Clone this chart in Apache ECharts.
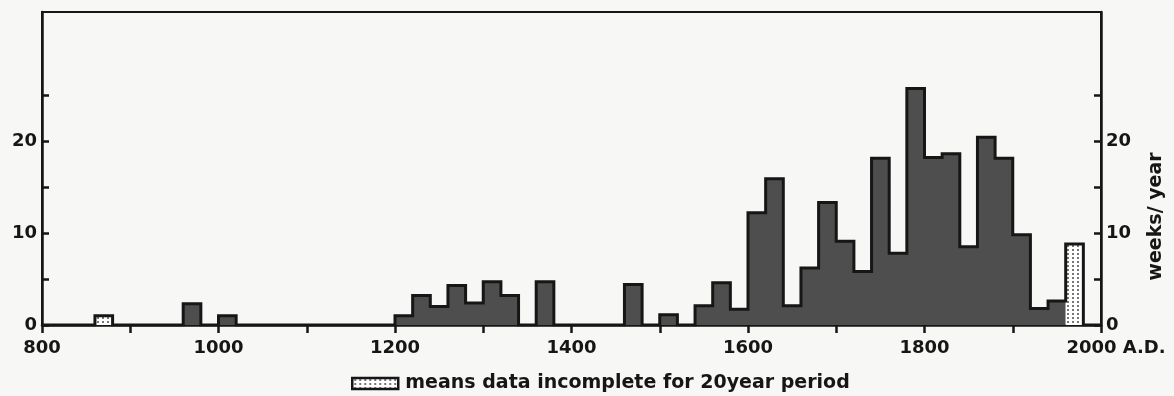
<!DOCTYPE html>
<html>
<head>
<meta charset="utf-8">
<script src="https://cdn.jsdelivr.net/npm/echarts@6/dist/echarts.min.js"></script>
<style>
  html, body { margin: 0; padding: 0; background: #f7f7f5; }
  #chart { width: 1174px; height: 396px; }
</style>
</head>
<body>
<div id="chart"></div>
<script>
// start year of each 20-year period
var binStarts = [
  800, 820, 840, 860, 880, 900, 920, 940, 960, 980,
  1000, 1020, 1040, 1060, 1080, 1100, 1120, 1140, 1160, 1180,
  1200, 1220, 1240, 1260, 1280, 1300, 1320, 1340, 1360, 1380,
  1400, 1420, 1440, 1460, 1480, 1500, 1520, 1540, 1560, 1580,
  1600, 1620, 1640, 1660, 1680, 1700, 1720, 1740, 1760, 1780,
  1800, 1820, 1840, 1860, 1880, 1900, 1920, 1940, 1960, 1980
]
// weeks / year for each period
var weeksPerYear = [
  0, 0, 0, 1.0, 0, 0, 0, 0, 2.3, 0,
  1.0, 0, 0, 0, 0, 0, 0, 0, 0, 0,
  1.0, 3.2, 2.0, 4.3, 2.4, 4.7, 3.2, 0, 4.7, 0,
  0, 0, 0, 4.4, 0, 1.1, 0, 2.1, 4.6, 1.7,
  12.2, 15.9, 2.1, 6.2, 13.3, 9.1, 5.8, 18.1, 7.8, 25.7,
  18.2, 18.6, 8.5, 20.4, 18.1, 9.8, 1.8, 2.6, 8.8, 0
]
// periods where data is incomplete
var incompleteStarts = [860, 1960]
var binWidth = 20
var endYear = 2000

var xLabelValues = [800, 1000, 1200, 1400, 1600, 1800, 2000]
var yLabelValues = [0, 10, 20]
var yTickValues = [0, 5, 10, 15, 20, 25]

var incompleteName = 'means data incomplete for 20year period'
var ink = '#161616'
var font = 'DejaVu Sans'

// dotted fill for incomplete periods
var dot = document.createElement('canvas')
dot.width = 5
dot.height = 4
var ctx = dot.getContext('2d')
ctx.fillStyle = '#ffffff'
ctx.fillRect(0, 0, 5, 4)
ctx.fillStyle = '#777777'
ctx.fillRect(2, 1, 2, 2)
var dotPattern = { image: dot, repeat: 'repeat' }

var fillData = []
var outlineData = []
var incompleteData = []
binStarts.forEach(function(start, i) {
  var isIncomplete = incompleteStarts.indexOf(start) >= 0
  fillData.push([start, isIncomplete ? 0 : weeksPerYear[i]])
  outlineData.push([start, weeksPerYear[i]])
  if (isIncomplete) {
    incompleteData.push([start, start + binWidth, weeksPerYear[i]])
  }
})
fillData.push([endYear, 0])
outlineData.push([endYear, 0])

var labelStyle = {
  color: ink,
  fontFamily: font,
  fontWeight: 'bold',
  fontSize: 18
}

function yAxisFor(pos) {
  return {
    type: 'value',
    position: pos,
    min: 0,
    max: 34,
    axisLine: { show: true, lineStyle: { color: ink, width: 2.5 } },
    axisTick: {
      show: true,
      inside: true,
      length: 7,
      customValues: yTickValues,
      lineStyle: { color: ink, width: 2.5 }
    },
    axisLabel: Object.assign({ customValues: yLabelValues, margin: 5 }, labelStyle),
    splitLine: { show: false }
  }
}

var rightAxis = yAxisFor('right')
rightAxis.name = 'weeks/ year'
rightAxis.nameLocation = 'middle'
rightAxis.nameRotate = 90
rightAxis.nameGap = 46
rightAxis.nameTextStyle = {
  color: ink,
  fontFamily: font,
  fontWeight: 'bold',
  fontSize: 19,
  padding: [0, 96, 0, 0]
}

var myChart = echarts.init(document.getElementById('chart'))

var option = {
  animation: false,
  backgroundColor: '#f7f7f5',
  grid: {
    left: 42,
    right: 71,
    top: 12,
    bottom: 71,
    show: true,
    borderColor: ink,
    borderWidth: 2,
    backgroundColor: 'transparent'
  },
  legend: {
    left: 346,
    top: 369,
    itemWidth: 46,
    itemHeight: 11,
    itemGap: 10,
    selectedMode: false,
    textStyle: {
      color: ink,
      fontFamily: font,
      fontWeight: 'bold',
      fontSize: 19,
      padding: [0, 0, 0, 2]
    },
    data: [{
      name: incompleteName,
      icon: 'rect',
      itemStyle: { color: dotPattern, borderColor: ink, borderWidth: 2.5 }
    }]
  },
  xAxis: {
    type: 'value',
    min: 800,
    max: endYear,
    interval: 100,
    axisLine: { onZero: false, lineStyle: { color: ink, width: 2.5 } },
    axisTick: { length: 8, lineStyle: { color: ink, width: 2.5 } },
    axisLabel: Object.assign({
      margin: 14,
      formatter: function(v) {
        if (xLabelValues.indexOf(v) < 0) return ''
        if (v === endYear) return '{y|' + v + '} A.D.'
        return String(v)
      },
      rich: {
        y: { fontFamily: font, fontWeight: 'bold', fontSize: 18, color: ink, padding: [0, 0, 0, 30] }
      }
    }, labelStyle),
    splitLine: { show: false }
  },
  yAxis: [yAxisFor('left'), rightAxis],
  series: [
    {
      // dark filled histogram
      type: 'line',
      step: 'end',
      symbol: 'none',
      silent: true,
      z: 1,
      data: fillData,
      lineStyle: { width: 0, opacity: 0 },
      areaStyle: { color: '#4e4e4e', opacity: 1 }
    },
    {
      name: incompleteName,
      type: 'custom',
      silent: true,
      z: 2,
      data: incompleteData,
      encode: { x: [0, 1], y: 2 },
      renderItem: function(params, api) {
        var p0 = api.coord([api.value(0), api.value(2)])
        var p1 = api.coord([api.value(1), 0])
        return {
          type: 'rect',
          shape: { x: p0[0], y: p0[1], width: p1[0] - p0[0], height: p1[1] - p0[1] },
          style: { fill: dotPattern }
        }
      },
      itemStyle: { color: dotPattern }
    },
    {
      // outline of the whole histogram
      type: 'line',
      step: 'end',
      symbol: 'none',
      silent: true,
      z: 3,
      data: outlineData,
      lineStyle: { color: ink, width: 3, join: 'miter' }
    }
  ]
}

myChart.setOption(option, true)
</script>
</body>
</html>
